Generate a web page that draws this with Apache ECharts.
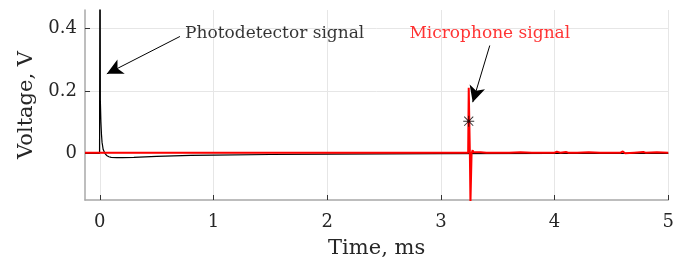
<!DOCTYPE html>
<html>
<head>
<meta charset="utf-8">
<script src="https://cdn.jsdelivr.net/npm/echarts@6/dist/echarts.min.js"></script>
<style>
  html, body { margin: 0; padding: 0; background: #fff; }
  #chart { width: 677px; height: 264px; }
</style>
</head>
<body>
<div id="chart"></div>
<script>
// photodetector trace (black): time in ms, voltage in V
const photoTime = [-0.13, -0.002, 0, 0.001, 0.002, 0.003, 0.004, 0.005, 0.006, 0.01, 0.015, 0.02, 0.03, 0.045, 0.06, 0.08, 0.1, 0.15, 0.2, 0.3, 0.5, 0.8, 1.0, 1.5, 2.0, 2.5, 3.0, 4.0, 5.0];
const photoVolt = [0, 0, 0.47, 0.17, 0.47, 0.17, 0.47, 0.17, 0.17, 0.1, 0.06, 0.035, 0.012, 0.0, -0.007, -0.011, -0.013, -0.014, -0.014, -0.013, -0.01, -0.007, -0.006, -0.004, -0.003, -0.002, -0.001, 0, 0];

// microphone trace (red)
const micTime = [-0.13, 3.24, 3.245, 3.25, 3.255, 3.26, 3.265, 3.27, 3.28, 3.285, 3.29, 3.3, 3.35, 3.4, 3.5, 3.6, 3.7, 3.8, 3.9, 4.0, 4.02, 4.05, 4.1, 4.12, 4.2, 4.3, 4.4, 4.5, 4.58, 4.6, 4.62, 4.7, 4.78, 4.8, 4.9, 5.0];
const micVolt = [0.002, 0.002, 0.21, 0.21, 0.0, -0.16, -0.16, 0.0, 0.01, 0.003, 0.004, 0.002, 0.003, 0.002, 0.002, 0.002, 0.003, 0.002, 0.002, 0.002, 0.005, 0.002, 0.004, 0.002, 0.002, 0.003, 0.002, 0.002, 0.002, 0.006, 0.0, 0.002, 0.004, 0.002, 0.003, 0.002];

// detection marker
const markerPoint = [[3.245, 0.103]];

// annotations
const photoNote = { text: 'Photodetector signal', at: [0.75, 0.384], from: [0.705, 0.375], to: [0.062, 0.255] };
const micNote = { text: 'Microphone signal', at: [3.43, 0.384], from: [3.43, 0.346], to: [3.28, 0.164] };

const xTicks = [0, 1, 2, 3, 4, 5];
const yTicks = [0, 0.2, 0.4];

const serif = 'DejaVu Serif';
const axisGray = '#a8a8a8';
const gridGray = '#e6e6e6';

const zip = (xs, ys) => xs.map((x, i) => [x, ys[i]]);

const asterisk = 'path://M4.6 0H5.4V10H4.6Z M0 4.6H10V5.4H0Z M1.2 0.6L9.4 8.8L8.8 9.4L0.6 1.2Z M8.8 0.6L9.4 1.2L1.2 9.4L0.6 8.8Z';

const chart = echarts.init(document.getElementById('chart'));
chart.setOption({
  animation: false,
  grid: { left: 85, right: 7, top: 10, bottom: 62 },
  xAxis: {
    type: 'value',
    min: -0.13,
    max: 5,
    name: 'Time, ms',
    nameLocation: 'middle',
    nameGap: 38,
    nameTextStyle: { fontFamily: serif, fontSize: 21, color: '#262626' },
    axisLine: { show: true, onZero: false, lineStyle: { color: axisGray, width: 1.5 } },
    axisTick: { show: true, inside: true, length: 5, customValues: xTicks, lineStyle: { color: '#333' } },
    axisLabel: { customValues: xTicks, fontFamily: serif, fontSize: 18, color: '#262626', margin: 13 },
    splitLine: { show: true, lineStyle: { color: gridGray } }
  },
  yAxis: {
    type: 'value',
    min: -0.15,
    max: 0.46,
    name: 'Voltage, V',
    nameLocation: 'middle',
    nameGap: 45,
    nameTextStyle: { fontFamily: serif, fontSize: 21, color: '#262626' },
    axisLine: { show: true, onZero: false, lineStyle: { color: axisGray, width: 1.5 } },
    axisTick: { show: true, inside: true, length: 5, customValues: yTicks, lineStyle: { color: '#333' } },
    axisLabel: { customValues: yTicks, fontFamily: serif, fontSize: 18, color: '#262626', margin: 8 },
    splitLine: { show: true, lineStyle: { color: gridGray } }
  },
  series: [
    {
      name: 'photo',
      type: 'line',
      data: zip(photoTime, photoVolt),
      showSymbol: false,
      lineStyle: { color: '#000', width: 1.2 },
      z: 2
    },
    {
      name: 'mic',
      type: 'line',
      data: zip(micTime, micVolt),
      showSymbol: false,
      lineStyle: { color: '#ff0000', width: 2 },
      z: 3
    },
    {
      name: 'marker',
      type: 'scatter',
      data: markerPoint,
      symbol: asterisk,
      symbolSize: 11,
      itemStyle: { color: '#000' },
      z: 5
    },
    {
      name: 'notes',
      type: 'scatter',
      symbolSize: 0,
      data: [
        { value: photoNote.at, label: { formatter: photoNote.text, position: 'right', color: '#000' } },
        { value: micNote.at, label: { formatter: micNote.text, position: 'inside', color: '#ff0000' } }
      ],
      label: { show: true, fontFamily: serif, fontSize: 17, distance: 0 },
      markLine: {
        silent: true,
        symbol: ['none', 'arrow'],
        symbolSize: [12, 16],
        label: { show: false },
        lineStyle: { color: '#000', width: 1, type: 'solid' },
        data: [
          [{ coord: photoNote.from }, { coord: photoNote.to }],
          [{ coord: micNote.from }, { coord: micNote.to }]
        ]
      },
      z: 6
    }
  ]
});
</script>
</body>
</html>
